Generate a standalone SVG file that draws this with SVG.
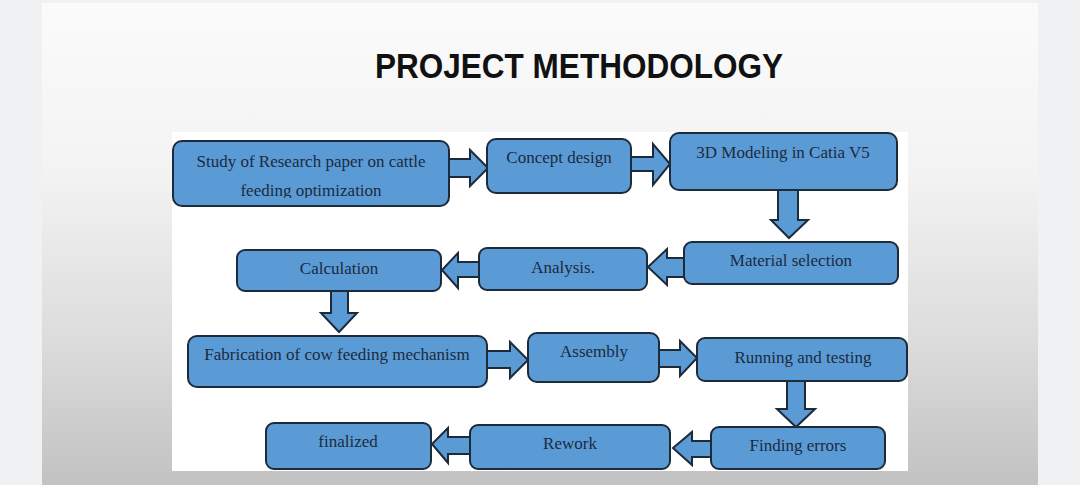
<svg xmlns="http://www.w3.org/2000/svg" width="1080" height="485" viewBox="0 0 1080 485">
<defs>
<linearGradient id="slideGrad" x1="0" y1="0" x2="0" y2="1">
<stop offset="0" stop-color="#fbfbfb"/>
<stop offset="0.35" stop-color="#f3f3f3"/>
<stop offset="0.7" stop-color="#dcdcdc"/>
<stop offset="1" stop-color="#c2c2c2"/>
</linearGradient>
<clipPath id="clip1"><rect x="173" y="141" width="276" height="57"/></clipPath>
<style>
.box{fill:#5b9bd5;stroke:#1d2a3a;stroke-width:2}
.arr{fill:#5b9bd5;stroke:#1d2a3a;stroke-width:2;stroke-linejoin:miter}
.lbl{font-family:"Liberation Serif","Times New Roman",serif;font-size:17px;fill:#1c2a40;text-anchor:middle}
.title{font-family:"Liberation Sans",Arial,sans-serif;font-weight:bold;font-size:35px;fill:#111111}
</style>
</defs>
<rect x="0" y="0" width="1080" height="485" fill="#eff1f3"/>
<rect x="42" y="3" width="996" height="482" fill="url(#slideGrad)"/>
<text class="title" x="375" y="78" textLength="408" lengthAdjust="spacingAndGlyphs">PROJECT METHODOLOGY</text>
<rect x="172" y="132" width="736" height="339" fill="#ffffff"/>
<g id="connectors">
<polygon class="arr" points="449,159 470,159 470,150 488,168 470,186 470,177 449,177"/>
<polygon class="arr" points="631,157 653,157 653,144 670,164 653,185 653,171 631,171"/>
<polygon class="arr" points="778,190 798,190 798,220 808,220 789,238 771,220 778,220"/>
<polygon class="arr" points="684,258 667,258 667,249 648,267 667,285 667,277 684,277"/>
<polygon class="arr" points="479,262 458,262 458,253 442,270 458,288 458,277 479,277"/>
<polygon class="arr" points="331,291 348,291 348,313 357,313 339,332 321,313 331,313"/>
<polygon class="arr" points="487,351 510,351 510,342 528,360 510,378 510,368 487,368"/>
<polygon class="arr" points="659,350 680,350 680,341 697,358 680,376 680,367 659,367"/>
<polygon class="arr" points="787,381 805,381 805,409 815,409 796,427 777,409 787,409"/>
<polygon class="arr" points="711,441 692,441 692,432 673,448 692,465 692,457 711,457"/>
<polygon class="arr" points="470,437 448,437 448,428 432,444 448,463 448,454 470,454"/>
</g>
<g id="n1">
<rect class="box" x="173" y="141" width="276" height="65" rx="9"/>
<g clip-path="url(#clip1)">
<text class="lbl" x="311" y="167">Study of Research paper on cattle</text>
<text class="lbl" x="311" y="196">feeding optimization</text>
</g>
</g>
<g id="n2">
<rect class="box" x="487" y="139" width="144" height="54" rx="9"/>
<text class="lbl" x="559" y="163">Concept design</text>
</g>
<g id="n3">
<rect class="box" x="670" y="133" width="227" height="57" rx="9"/>
<text class="lbl" x="783" y="158">3D Modeling in Catia V5</text>
</g>
<g id="n4">
<rect class="box" x="684" y="242" width="214" height="42" rx="8"/>
<text class="lbl" x="791" y="266">Material selection</text>
</g>
<g id="n5">
<rect class="box" x="479" y="248" width="168" height="42" rx="8"/>
<text class="lbl" x="563" y="273">Analysis.</text>
</g>
<g id="n6">
<rect class="box" x="237" y="250" width="204" height="41" rx="8"/>
<text class="lbl" x="339" y="274">Calculation</text>
</g>
<g id="n7">
<rect class="box" x="188" y="336" width="299" height="51" rx="9"/>
<text class="lbl" x="337" y="360">Fabrication of cow feeding mechanism</text>
</g>
<g id="n8">
<rect class="box" x="528" y="333" width="131" height="49" rx="9"/>
<text class="lbl" x="594" y="357">Assembly</text>
</g>
<g id="n9">
<rect class="box" x="697" y="338" width="210" height="43" rx="8"/>
<text class="lbl" x="803" y="363">Running and testing</text>
</g>
<g id="n10">
<rect class="box" x="711" y="427" width="174" height="42" rx="8"/>
<text class="lbl" x="798" y="451">Finding errors</text>
</g>
<g id="n11">
<rect class="box" x="470" y="425" width="200" height="44" rx="8"/>
<text class="lbl" x="570" y="449">Rework</text>
</g>
<g id="n12">
<rect class="box" x="266" y="423" width="165" height="46" rx="8"/>
<text class="lbl" x="348" y="447">finalized</text>
</g>
</svg>
